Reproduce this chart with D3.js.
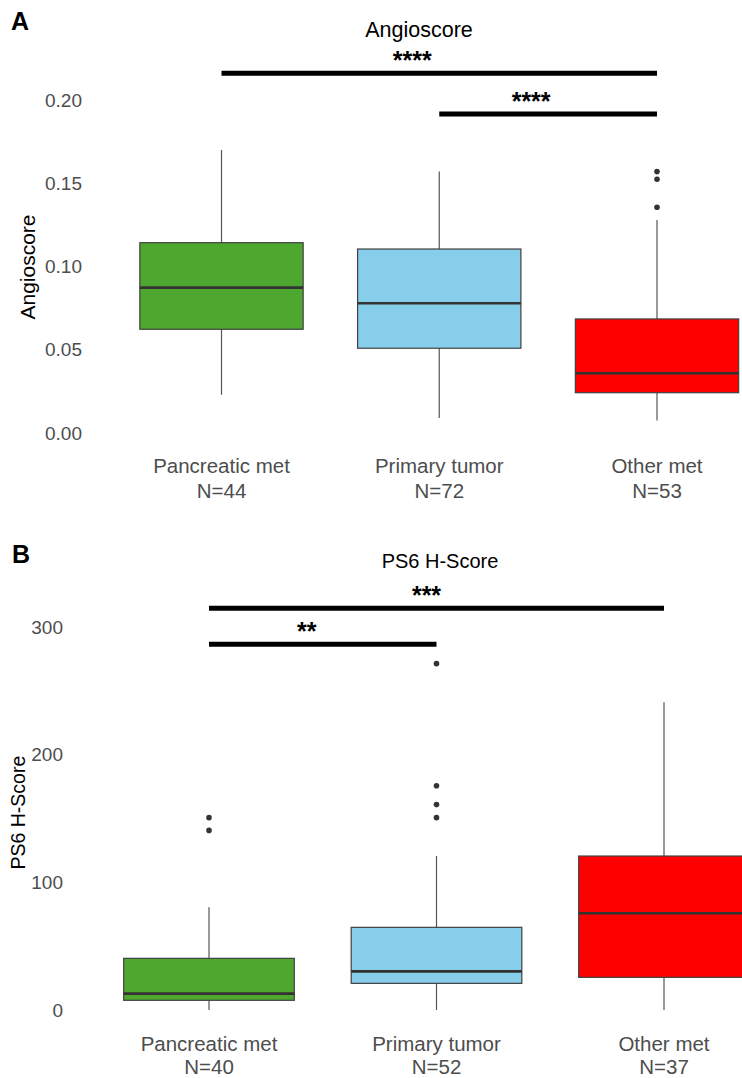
<!DOCTYPE html>
<html>
<head>
<meta charset="utf-8">
<script src="https://cdn.jsdelivr.net/npm/d3@7"></script>
<style>
  html, body { margin: 0; padding: 0; background: #ffffff; }
  svg { display: block; font-family: "Liberation Sans", Arial, sans-serif; }
</style>
</head>
<body>
<svg id="chart" width="742" height="1078"></svg>
<script>
// ---------------- DATA ----------------
const categories = ["Pancreatic met", "Primary tumor", "Other met"];
const colors = ["#4ea72e", "#87ceeb", "#ff0000"];

// Panel A : Angioscore
const nA = [44, 72, 53];
const angioLow    = [0.023, 0.009, 0.0075];
const angioQ1     = [0.0623, 0.0509, 0.0242];
const angioMedian = [0.0873, 0.0779, 0.0359];
const angioQ3     = [0.1143, 0.1105, 0.0685];
const angioHigh   = [0.170, 0.157, 0.128];
const angioOutliers = [[], [], [0.157, 0.1524, 0.1356]];
const angioTicks = [0.00, 0.05, 0.10, 0.15, 0.20];
const angioSig = [
  { from: "Pancreatic met", to: "Other met", y: 0.216, label: "****" },
  { from: "Primary tumor",  to: "Other met", y: 0.1916, label: "****" }
];

// Panel B : PS6 H-Score
const nB = [40, 52, 37];
const ps6Low    = [0, 0, 0];
const ps6Q1     = [7.6, 20.9, 25.6];
const ps6Median = [12.8, 30.3, 75.8];
const ps6Q3     = [40.5, 64.8, 120.7];
const ps6High   = [80.5, 120.7, 241.2];
const ps6Outliers = [[150.8, 140.8], [271.5, 175.8, 161, 150.8], []];
const ps6Ticks = [0, 100, 200, 300];
const ps6Sig = [
  { from: "Pancreatic met", to: "Other met",     y: 314.9, label: "***" },
  { from: "Pancreatic met", to: "Primary tumor", y: 286.7, label: "**" }
];

// ---------------- DRAW ----------------
const svg = d3.select("#chart");

function panel(cfg) {
  const g = svg.append("g");
  const x = d3.scalePoint().domain(categories).range(cfg.xRange);
  const y = d3.scaleLinear().domain(cfg.yDomain).range(cfg.yRange);
  const bw = x.step() * 0.75;

  // panel letter
  g.append("text").attr("x", cfg.letterX).attr("y", cfg.letterY)
    .attr("font-size", 25).attr("font-weight", "bold").attr("fill", "#000")
    .text(cfg.letter);

  // title
  g.append("text").attr("x", cfg.titleX).attr("y", cfg.titleY)
    .attr("text-anchor", "middle").attr("font-size", cfg.titleSize).attr("fill", "#000")
    .text(cfg.title);

  // y axis
  const ax = g.append("g").attr("transform", `translate(${cfg.axisX},0)`)
    .call(d3.axisLeft(y).tickValues(cfg.ticks).tickFormat(cfg.fmt).tickSize(0).tickPadding(4));
  ax.select(".domain").remove();
  ax.selectAll("text").attr("font-size", 19).attr("fill", "#4d4d4d")
    .attr("font-family", "Liberation Sans, Arial, sans-serif");

  // y title
  g.append("text")
    .attr("transform", `translate(${cfg.yTitleX},${cfg.yTitleY}) rotate(-90)`)
    .attr("text-anchor", "middle").attr("font-size", cfg.yTitleSize).attr("fill", "#000")
    .text(cfg.title);

  // boxes
  categories.forEach((c, i) => {
    const cx = x(c);
    const bg = g.append("g");
    // whiskers
    bg.append("line").attr("x1", cx).attr("x2", cx)
      .attr("y1", y(cfg.q3[i])).attr("y2", y(cfg.high[i]))
      .attr("stroke", "#555").attr("stroke-width", 1.2);
    bg.append("line").attr("x1", cx).attr("x2", cx)
      .attr("y1", y(cfg.q1[i])).attr("y2", y(cfg.low[i]))
      .attr("stroke", "#555").attr("stroke-width", 1.2);
    // box
    bg.append("rect").attr("x", cx - bw / 2).attr("width", bw)
      .attr("y", y(cfg.q3[i])).attr("height", y(cfg.q1[i]) - y(cfg.q3[i]))
      .attr("fill", colors[i]).attr("stroke", "#404040").attr("stroke-width", 1.2);
    // median
    bg.append("line").attr("x1", cx - bw / 2).attr("x2", cx + bw / 2)
      .attr("y1", y(cfg.median[i])).attr("y2", y(cfg.median[i]))
      .attr("stroke", "#333").attr("stroke-width", 2.6);
    // outliers
    bg.selectAll("circle.out").data(cfg.outliers[i]).enter().append("circle")
      .attr("cx", cx).attr("cy", d => y(d)).attr("r", 2.8).attr("fill", "#333");
    // x label
    const lbl = g.append("text").attr("text-anchor", "middle")
      .attr("font-size", 20.5).attr("fill", "#4d4d4d");
    lbl.append("tspan").attr("x", cx).attr("y", cfg.labelY).text(c);
    lbl.append("tspan").attr("x", cx).attr("y", cfg.labelY + cfg.labelGap).text("N=" + cfg.n[i]);
  });

  // significance brackets
  cfg.sig.forEach((s, k) => {
    const x1 = x(s.from), x2 = x(s.to), yy = y(s.y);
    g.append("line").attr("x1", x1).attr("x2", x2).attr("y1", yy).attr("y2", yy)
      .attr("stroke", "#000").attr("stroke-width", 5);
    g.append("text").attr("x", (x1 + x2) / 2 + cfg.starShift[k]).attr("y", yy - 4)
      .attr("text-anchor", "middle").attr("font-size", 25).attr("font-weight", "bold")
      .attr("fill", "#000").text(s.label);
  });
}

panel({
  letter: "A", letterX: 11, letterY: 30,
  title: "Angioscore", titleX: 419, titleY: 37, titleSize: 21.5, yTitleSize: 21,
  xRange: [221.5, 657], yDomain: [0, 0.2], yRange: [433, 100],
  ticks: angioTicks, fmt: d3.format(".2f"), axisX: 86,
  yTitleX: 35, yTitleY: 267,
  low: angioLow, q1: angioQ1, median: angioMedian, q3: angioQ3, high: angioHigh,
  outliers: angioOutliers, n: nA, labelY: 473, labelGap: 25, sig: angioSig,
  starShift: [-27, -17]
});

panel({
  letter: "B", letterX: 12, letterY: 563,
  title: "PS6 H-Score", titleX: 440, titleY: 568, titleSize: 20, yTitleSize: 19.5,
  xRange: [209, 664], yDomain: [0, 300], yRange: [1010, 627.3],
  ticks: ps6Ticks, fmt: d3.format("d"), axisX: 67,
  yTitleX: 25, yTitleY: 812.6,
  low: ps6Low, q1: ps6Q1, median: ps6Median, q3: ps6Q3, high: ps6High,
  outliers: ps6Outliers, n: nB, labelY: 1051, labelGap: 23, sig: ps6Sig,
  starShift: [-10, -16]
});
</script>
</body>
</html>
